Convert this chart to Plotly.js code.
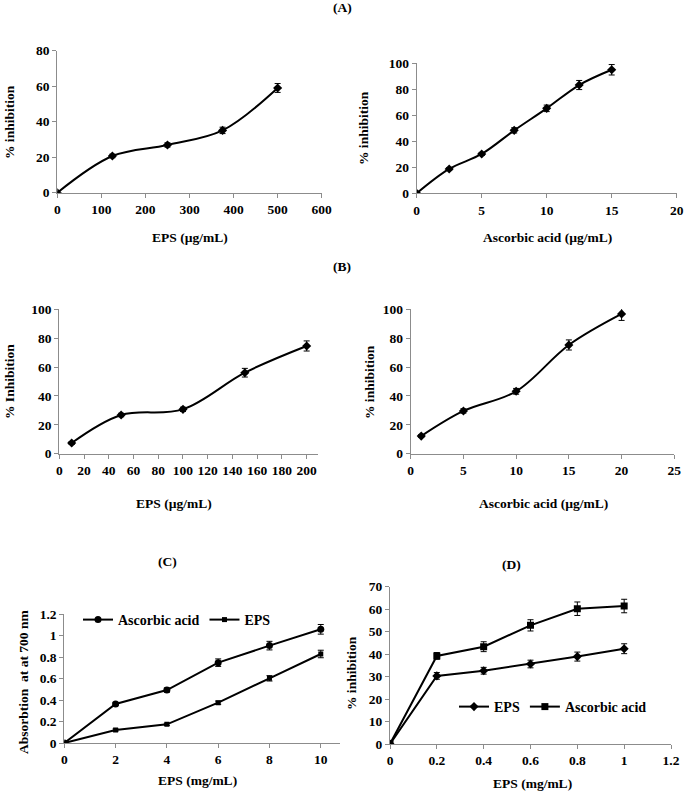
<!DOCTYPE html>
<html>
<head>
<meta charset="utf-8">
<script src="https://cdn.plot.ly/plotly-3.0.1.min.js"></script>
<style>html,body{margin:0;padding:0;background:#fff}</style>
</head>
<body>
<div id="graph" style="width:685px;height:793px"></div>
<script>
/* (A) DPPH - EPS e acido ascorbico */
const epsA = [0, 125, 250, 375, 500];
const inhA = [0, 20.7, 26.9, 35.1, 59.0];
const errA = [0, 1.0, 1.2, 1.8, 2.5];

const ascA = [0, 2.5, 5, 7.5, 10, 12.5, 15];
const inhAscA = [0, 18.7, 30.2, 48.3, 65.2, 83.1, 94.8];
const errAscA = [0, 1.0, 1.2, 2.0, 2.5, 3.5, 4.0];

/* (B) */
const epsB = [10, 50, 100, 150, 200];
const inhB = [7.4, 26.8, 30.7, 56.1, 74.6];
const errB = [1.0, 1.2, 1.5, 3.0, 3.5];

const ascB = [1, 5, 10, 15, 20];
const inhAscB = [12.2, 29.6, 43.2, 75.3, 96.8];
const errAscB = [1.0, 1.5, 2.0, 3.5, 4.5];

/* (C) poder reductor */
const concC = [0, 2, 4, 6, 8, 10];
const absAscC = [0, 0.364, 0.494, 0.749, 0.908, 1.06];
const errAscC = [0, 0.015, 0.02, 0.035, 0.04, 0.045];
const absEpsC = [0, 0.121, 0.174, 0.376, 0.603, 0.83];
const errEpsC = [0, 0.01, 0.01, 0.015, 0.025, 0.035];

/* (D) */
const concD = [0, 0.2, 0.4, 0.6, 0.8, 1];
const inhEpsD = [0, 30.3, 32.6, 35.6, 38.9, 42.4];
const errEpsD = [0, 1.5, 1.5, 1.7, 2.0, 2.2];
const inhAscD = [0, 39.2, 43.3, 52.8, 60.2, 61.4];
const errAscD = [0, 1.5, 2.2, 2.5, 3.0, 3.0];

const W = 685, H = 793;
const FONT = 'Liberation Serif, Times New Roman, serif';

// pixeles -> coordenadas de papel
function dx(a, b) { return [a / W, b / W]; }
function dy(top, bottom) { return [1 - bottom / H, 1 - top / H]; }

function axis(range, dtick, domain, anchor) {
    return {
        range: range,
        dtick: dtick,
        tick0: 0,
        domain: domain,
        anchor: anchor,
        showgrid: false,
        zeroline: false,
        showline: true,
        linecolor: '#8c8c8c',
        linewidth: 1,
        ticks: 'outside',
        ticklen: 4,
        tickcolor: '#8c8c8c',
        tickfont: {family: FONT, size: 13.5, color: '#000', weight: 700},
        fixedrange: true
    };
}

function serie(x, y, err, xa, ya, symbol, shape, name, legend) {
    return {
        type: 'scatter',
        mode: 'lines+markers',
        x: x, y: y,
        xaxis: xa, yaxis: ya,
        name: name || '',
        showlegend: !!legend,
        legend: legend || 'legend',
        line: {color: '#000', width: 2, shape: shape, smoothing: 1},
        marker: {color: '#000', symbol: symbol, size: 7},
        error_y: {type: 'data', array: err, visible: true, color: '#000', thickness: 1, width: 3}
    };
}

const data = [
    serie(epsA, inhA, errA, 'x', 'y', 'diamond', 'spline'),
    serie(ascA, inhAscA, errAscA, 'x2', 'y2', 'diamond', 'spline'),
    serie(epsB, inhB, errB, 'x3', 'y3', 'diamond', 'spline'),
    serie(ascB, inhAscB, errAscB, 'x4', 'y4', 'diamond', 'spline'),
    serie(concC, absAscC, errAscC, 'x5', 'y5', 'circle', 'linear', '<b>Ascorbic acid</b>', 'legend'),
    serie(concC, absEpsC, errEpsC, 'x5', 'y5', 'square', 'linear', '<b>EPS</b>', 'legend'),
    serie(concD, inhEpsD, errEpsD, 'x6', 'y6', 'diamond', 'linear', '<b>EPS</b>', 'legend2'),
    serie(concD, inhAscD, errAscD, 'x6', 'y6', 'square', 'linear', '<b>Ascorbic acid</b>', 'legend2')
];
data[5].marker.size = 5;

function label(text, x, y, rot) {
    return {
        text: '<b>' + text + '</b>', xref: 'paper', yref: 'paper',
        x: x / W, y: 1 - y / H,
        xanchor: 'center', yanchor: 'middle',
        showarrow: false, textangle: rot || 0,
        font: {family: FONT, size: 13.5, color: '#000'}
    };
}

const legendStyle = {
    orientation: 'h',
    xanchor: 'left', yanchor: 'middle',
    bgcolor: 'rgba(0,0,0,0)',
    font: {family: FONT, size: 14, color: '#000'},
    itemwidth: 30,
    tracegroupgap: 0
};

const layout = {
    width: W, height: H,
    margin: {l: 0, r: 0, t: 0, b: 0},
    paper_bgcolor: '#fff',
    plot_bgcolor: '#fff',
    showlegend: true,
    xaxis: axis([0, 600], 100, dx(57.3, 321.7), 'y'),
    yaxis: axis([0, 80], 20, dy(50.7, 192.7), 'x'),
    xaxis2: axis([0, 20], 5, dx(416.7, 676.7), 'y2'),
    yaxis2: axis([0, 100], 20, dy(63, 193.3), 'x2'),
    xaxis3: axis([0, 209], 20, dx(59.3, 317.8), 'y3'),
    yaxis3: axis([0, 100], 20, dy(309.3, 453.7), 'x3'),
    xaxis4: axis([0, 25], 5, dx(410.7, 674.3), 'y4'),
    yaxis4: axis([0, 100], 20, dy(309.3, 453.7), 'x4'),
    xaxis5: axis([0, 10.75], 2, dx(64.3, 340), 'y5'),
    yaxis5: axis([0, 1.2], 0.2, dy(614.3, 743), 'x5'),
    xaxis6: axis([0, 1.2], 0.2, dx(390, 671), 'y6'),
    yaxis6: axis([0, 70], 10, dy(586.7, 744), 'x6'),
    legend: Object.assign({x: 78 / W, y: 1 - 620 / H}, legendStyle),
    legend2: Object.assign({x: 454 / W, y: 1 - 707 / H}, legendStyle),
    annotations: [
        label('(A)', 342, 8),
        label('(B)', 342, 267),
        label('(C)', 167, 561),
        label('(D)', 512, 564),
        label('% inhibition', 9, 122, -90),
        label('EPS (µg/mL)', 190, 237),
        label('% inhibition', 363, 128, -90),
        label('Ascorbic acid (µg/mL)', 547, 237),
        label('% Inhibition', 9, 382, -90),
        label('EPS (µg/mL)', 174, 503),
        label('% inhibition', 369, 382, -90),
        label('Ascorbic acid (µg/mL)', 543, 503),
        label('Absorbtion  at at 700 nm', 23, 682, -90),
        label('EPS (mg/mL)', 197, 780),
        label('% inhibition', 351, 673, -90),
        label('EPS (mg/mL)', 532, 783)
    ]
};

Plotly.newPlot('graph', data, layout, {staticPlot: true});
</script>
</body>
</html>
